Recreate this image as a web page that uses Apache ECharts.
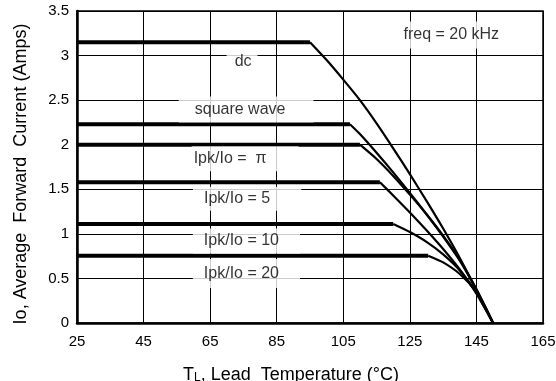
<!DOCTYPE html>
<html>
<head>
<meta charset="utf-8">
<script src="https://cdn.jsdelivr.net/npm/echarts@6/dist/echarts.min.js"></script>
<style>
  html, body { margin: 0; padding: 0; background: #fff; }
  #chart { width: 556px; height: 381px; }
</style>
</head>
<body>
<div id="chart"></div>
<script>
// derating curves, lead temperature (°C) vs average forward current (A)
const startTemp = 25
const dcCurve = [[95, 3.15], [100, 2.95], [105, 2.73], [110, 2.5], [115, 2.24], [120, 1.96], [125, 1.67], [130, 1.37], [135, 1.06], [140, 0.73], [145, 0.37], [150, 0]]
const squareCurve = [[107, 2.23], [110, 2.12], [115, 1.91], [120, 1.69], [125, 1.46], [130, 1.22], [135, 0.97], [140, 0.7], [145, 0.37], [150, 0]]
const piCurve = [[110, 2.0], [115, 1.84], [120, 1.65], [125, 1.44], [130, 1.22], [135, 0.98], [140, 0.71], [145, 0.38], [150, 0]]
const ratio5Curve = [[116, 1.58], [120, 1.43], [125, 1.24], [130, 1.04], [135, 0.83], [140, 0.6], [145, 0.33], [150, 0]]
const ratio10Curve = [[120, 1.11], [125, 1.02], [130, 0.91], [135, 0.77], [140, 0.59], [145, 0.34], [150, 0]]
const ratio20Curve = [[130.5, 0.755], [135, 0.68], [140, 0.55], [145, 0.35], [147.5, 0.19], [150, 0]]
const curves = [dcCurve, squareCurve, piCurve, ratio5Curve, ratio10Curve, ratio20Curve]

// annotation texts and where they sit (data coords)
const labelTexts = ['dc', 'square wave', 'Ipk/Io =  π', 'Ipk/Io = 5', 'Ipk/Io = 10', 'Ipk/Io = 20', 'freq = 20 kHz']
const labelPoints = [[74.6, 2.93], [75.8, 2.395], [75.5, 1.843], [76.1, 1.394], [75.9, 0.919], [75.9, 0.556], [137.0, 3.231]]
const labelPadding = [[6, 6, 6, 8], [10, 28, 0, 16], [2, 32, 7, 2], [5, 31, 3, 11], [6, 21, 3, 11], [6, 21, 7, 11], [5, 5, 6, 8]]

const xTicks = { min: 25, max: 165, interval: 20 }
const yTicks = { min: 0, max: 3.5, interval: 0.5 }

const font = 'Liberation Sans, Arial, sans-serif'
const chart = echarts.init(document.getElementById('chart'))

const series = []
curves.forEach(c => {
  series.push({
    type: 'line',
    data: [[startTemp, c[0][1]], c[0]],
    showSymbol: false,
    lineStyle: { color: '#000', width: 4 },
    z: 2,
    silent: true
  })
  series.push({
    type: 'line',
    data: c,
    showSymbol: false,
    smooth: 0.2,
    lineStyle: { color: '#000', width: 2.2 },
    z: 2,
    silent: true
  })
})
series.push({
  type: 'scatter',
  symbolSize: 0,
  z: 5,
  silent: true,
  data: labelPoints.map((p, i) => ({
    value: [p[0], p[1]],
    label: {
      show: true,
      position: 'inside',
      formatter: labelTexts[i],
      padding: labelPadding[i]
    }
  })),
  label: {
    color: '#000',
    fontSize: 16,
    fontFamily: font,
    lineHeight: 16,
    backgroundColor: '#fff'
  }
})

chart.setOption({
  animation: false,
  backgroundColor: '#fff',
  grid: {
    left: 77, right: 13, top: 11, bottom: 58,
    outerBoundsMode: 'none',
    show: true, borderColor: '#000', borderWidth: 1.5
  },
  xAxis: {
    type: 'value',
    min: xTicks.min, max: xTicks.max, interval: xTicks.interval,
    axisLine: { lineStyle: { color: '#000', width: 2.5 } },
    axisTick: { show: false },
    axisLabel: { color: '#000', fontSize: 15, fontFamily: font, margin: 11 },
    splitLine: { lineStyle: { color: '#000', width: 1 } },
    name: '{t|T}{s|L}{t|, Lead  Temperature (°C)}',
    nameLocation: 'middle',
    nameGap: 43,
    nameTextStyle: {
      padding: [0, 38, 0, 0],
      rich: {
        t: { fontSize: 18, fontFamily: font, color: '#000' },
        s: { fontSize: 12, fontFamily: font, color: '#000', padding: [6, 0, 0, 0] }
      }
    }
  },
  yAxis: {
    type: 'value',
    min: yTicks.min, max: yTicks.max, interval: yTicks.interval,
    axisLine: { show: true, lineStyle: { color: '#000', width: 2.5 } },
    axisTick: { show: false },
    axisLabel: { color: '#000', fontSize: 15, fontFamily: font, margin: 8 },
    splitLine: { lineStyle: { color: '#000', width: 1 } },
    name: 'Io, Average  Forward  Current (Amps)',
    nameLocation: 'middle',
    nameGap: 47,
    nameTextStyle: { color: '#000', fontSize: 18, fontFamily: font, padding: [0, 14, 0, 0] }
  },
  series
})
</script>
</body>
</html>
